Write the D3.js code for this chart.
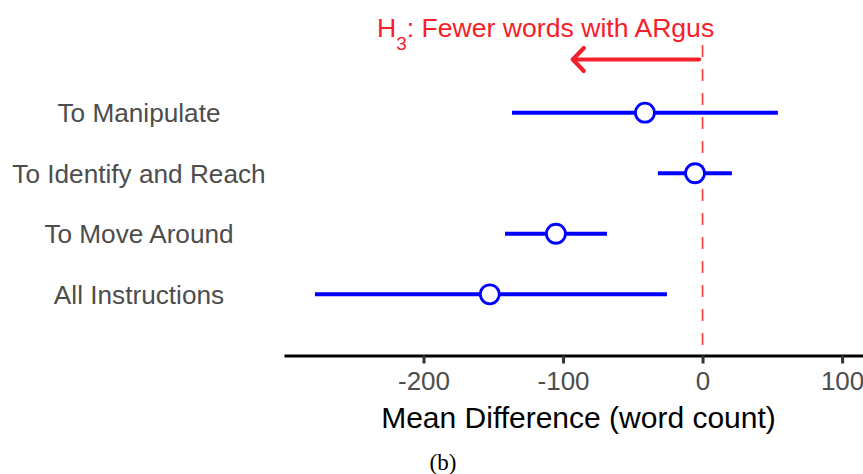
<!DOCTYPE html>
<html>
<head>
<meta charset="utf-8">
<script src="https://cdn.jsdelivr.net/npm/d3@7"></script>
<style>
  html, body { margin: 0; padding: 0; background: #fff; }
  svg { display: block; font-family: "Liberation Sans", Arial, sans-serif; }
</style>
</head>
<body>
<svg id="chart" width="863" height="474"></svg>
<script>
// Instruction categories, top to bottom
const categories = ["To Manipulate", "To Identify and Reach", "To Move Around", "All Instructions"];
// Mean difference in word count and its interval bounds
const meanDiff = [-41.3, -5.4, -105.1, -152.5];
const lowerCI  = [-136.6, -32.0, -141.6, -277.8];
const upperCI  = [54.0, 21.0, -68.5, -25.5];
const xTicks   = [-200, -100, 0, 100];

const rows = categories.map((c, i) => ({ cat: c, mean: meanDiff[i], lo: lowerCI[i], hi: upperCI[i] }));

const svg = d3.select("#chart");
const axisY = 355.5;

const x = d3.scaleLinear().domain([-300, 115]).range([284, 863]);
const y = d3.scalePoint().domain(categories).range([112.7, 294.3]);

// Reference line at zero
svg.append("line")
  .attr("x1", x(0)).attr("x2", x(0))
  .attr("y1", 45).attr("y2", axisY)
  .attr("stroke", "#ff3a3a")
  .attr("stroke-width", 1.6)
  .attr("stroke-dasharray", "12,12");

// Hypothesis annotation
const red = "#f6202a";
const title = svg.append("text")
  .attr("x", 377).attr("y", 36.5)
  .attr("fill", red)
  .attr("font-size", 26.6);
title.append("tspan").text("H");
title.append("tspan").attr("font-size", 19).attr("dy", 13).text("3");
title.append("tspan").attr("dy", -13).text(": Fewer words with ARgus");

svg.append("line")
  .attr("x1", x(-2.5)).attr("x2", x(-93))
  .attr("y1", 59.5).attr("y2", 59.5)
  .attr("stroke", red).attr("stroke-width", 4.2)
  .attr("stroke-linecap", "round");
svg.append("path")
  .attr("d", d3.line()([[x(-93) + 11, 59.5 - 11.5], [x(-93), 59.5], [x(-93) + 11, 59.5 + 11.5]]))
  .attr("fill", "none")
  .attr("stroke", red).attr("stroke-width", 4.2)
  .attr("stroke-linecap", "round").attr("stroke-linejoin", "round");

// Interval segments
svg.append("g").selectAll("line")
  .data(rows).join("line")
  .attr("x1", d => x(d.lo)).attr("x2", d => x(d.hi))
  .attr("y1", d => y(d.cat)).attr("y2", d => y(d.cat))
  .attr("stroke", "#0000ff").attr("stroke-width", 4);

// Point estimates
svg.append("g").selectAll("circle")
  .data(rows).join("circle")
  .attr("cx", d => x(d.mean)).attr("cy", d => y(d.cat))
  .attr("r", 9.5)
  .attr("fill", "#fff")
  .attr("stroke", "#0000ff").attr("stroke-width", 2.8);

// Category labels
svg.append("g").selectAll("text")
  .data(rows).join("text")
  .attr("x", 139).attr("y", d => y(d.cat) + 9.3)
  .attr("text-anchor", "middle")
  .attr("fill", "#4d4d4d")
  .attr("font-size", 26.2)
  .text(d => d.cat);

// X axis
const xAxis = d3.axisBottom(x).tickValues(xTicks).tickSize(8).tickSizeOuter(0).tickPadding(8)
  .tickFormat(d3.format("d"));
const gx = svg.append("g").attr("transform", `translate(0,${axisY})`).call(xAxis);
gx.select(".domain").attr("stroke", "#000").attr("stroke-width", 3);
gx.selectAll(".tick line").attr("stroke", "#333").attr("stroke-width", 3);
gx.selectAll(".tick text")
  .attr("fill", "#4d4d4d")
  .attr("font-size", 26)
  .attr("font-family", "Liberation Sans, Arial, sans-serif")
  .text(d => d < 0 ? "-" + Math.abs(d) : d);

svg.append("text")
  .attr("x", 578.5).attr("y", 427.5)
  .attr("text-anchor", "middle")
  .attr("fill", "#000")
  .attr("font-size", 30)
  .text("Mean Difference (word count)");

// Panel caption
svg.append("text")
  .attr("x", 443).attr("y", 470)
  .attr("text-anchor", "middle")
  .attr("fill", "#000")
  .attr("font-family", "'Liberation Serif', 'DejaVu Serif', serif")
  .attr("font-size", 23)
  .text("(b)");
</script>
</body>
</html>
